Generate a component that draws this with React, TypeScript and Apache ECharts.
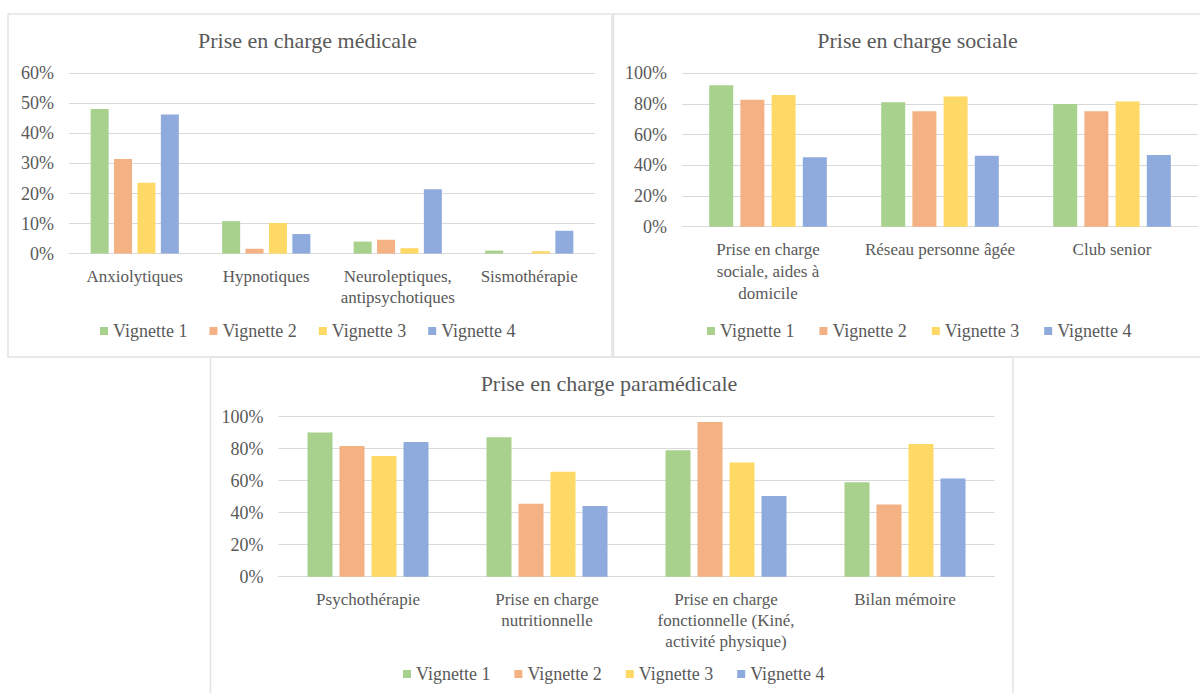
import React, { useEffect, useRef } from "react";
import * as echarts from "echarts";

const seriesNames = ["Vignette 1", "Vignette 2", "Vignette 3", "Vignette 4"];
const colors = ["#A9D18E", "#F4B183", "#FFD966", "#8FAADC"];

const medTitle = "Prise en charge médicale";
const medCategories = ["Anxiolytiques", "Hypnotiques", "Neuroleptiques,\nantipsychotiques", "Sismothérapie"];
const medV1 = [48.1, 10.8, 4.0, 1.0];
const medV2 = [31.5, 1.6, 4.6, 0];
const medV3 = [23.6, 10.2, 1.8, 0.8];
const medV4 = [46.3, 6.5, 21.4, 7.6];

const socTitle = "Prise en charge sociale";
const socCategories = ["Prise en charge\nsociale, aides à\ndomicile", "Réseau personne âgée", "Club senior"];
const socV1 = [92.2, 81.1, 80.0];
const socV2 = [82.8, 75.2, 75.2];
const socV3 = [85.9, 84.8, 81.6];
const socV4 = [45.2, 46.2, 46.8];

const paraTitle = "Prise en charge paramédicale";
const paraCategories = [
  "Psychothérapie",
  "Prise en charge\nnutritionnelle",
  "Prise en charge\nfonctionnelle (Kiné,\nactivité physique)",
  "Bilan mémoire",
];
const paraV1 = [90.2, 87.1, 79.0, 59.0];
const paraV2 = [81.7, 45.6, 96.7, 45.2];
const paraV3 = [75.4, 65.6, 71.3, 82.9];
const paraV4 = [84.2, 44.2, 50.4, 61.3];

const FONT = "Liberation Serif";
const TXT = "#595959";
const GRIDC = "#d9d9d9";

export default function App() {
  const ref = useRef<HTMLDivElement>(null);
  useEffect(() => {
    if (!ref.current) return;
    const chart = echarts.init(ref.current, undefined, { renderer: "svg" });

    const panels = [
      { title: medTitle, cats: medCategories, data: [medV1, medV2, medV3, medV4], max: 60, interval: 10,
        grid: { left: 69, top: 73.3, width: 526, height: 180.3 }, barWidth: 18, barGap: "30%", lh: 21,
        titleX: 307.5, titleY: 29, legendX: 100, legendY: 322, legendGap: 22 },
      { title: socTitle, cats: socCategories, data: [socV1, socV2, socV3, socV4], max: 100, interval: 20,
        grid: { left: 682, top: 73.3, width: 516, height: 153.4 }, barWidth: 24, barGap: "30%", lh: 22,
        titleX: 917.5, titleY: 29, legendX: 707, legendY: 322, legendGap: 25 },
      { title: paraTitle, cats: paraCategories, data: [paraV1, paraV2, paraV3, paraV4], max: 100, interval: 20,
        grid: { left: 278.5, top: 416.7, width: 716, height: 160 }, barWidth: 25, barGap: "28%", lh: 21,
        titleX: 609, titleY: 372, legendX: 403, legendY: 665, legendGap: 24 },
    ];

    const option: any = {
      animation: false,
      backgroundColor: "#ffffff",
      textStyle: { fontFamily: FONT, color: TXT },
      title: panels.map((p) => ({
        text: p.title,
        left: p.titleX,
        top: p.titleY,
        padding: 0,
        textAlign: "center",
        textStyle: { fontFamily: FONT, fontSize: 22, fontWeight: "normal", color: TXT },
      })),
      legend: panels.map((p) => ({
        data: seriesNames,
        left: p.legendX,
        top: p.legendY,
        padding: 0,
        icon: "rect",
        itemWidth: 8,
        itemHeight: 8,
        itemGap: p.legendGap,
        textStyle: { fontFamily: FONT, fontSize: 18, color: TXT },
        selectedMode: false,
      })),
      grid: panels.map((p) => ({ ...p.grid, containLabel: false })),
      xAxis: panels.map((p, i) => ({
        type: "category",
        gridIndex: i,
        data: p.cats,
        axisLine: { show: true, lineStyle: { color: GRIDC, width: 1 } },
        axisTick: { show: false },
        axisLabel: {
          interval: 0,
          margin: 12,
          fontFamily: FONT,
          fontSize: 17,
          lineHeight: p.lh,
          color: TXT,
        },
      })),
      yAxis: panels.map((p, i) => ({
        type: "value",
        gridIndex: i,
        min: 0,
        max: p.max,
        interval: p.interval,
        axisLine: { show: false },
        axisTick: { show: false },
        splitLine: { show: true, lineStyle: { color: GRIDC, width: 1 } },
        axisLabel: {
          formatter: "{value}%",
          margin: 15,
          fontFamily: FONT,
          fontSize: 18,
          color: TXT,
        },
      })),
      series: panels.flatMap((p, i) =>
        p.data.map((d, k) => ({
          type: "bar",
          name: seriesNames[k],
          xAxisIndex: i,
          yAxisIndex: i,
          data: d,
          barWidth: p.barWidth,
          barGap: p.barGap,
          itemStyle: { color: colors[k] },
        }))
      ),
      graphic: [
        { type: "rect", shape: { x: 8, y: 14, width: 604, height: 343 }, style: { fill: "none", stroke: "#e3e3e3", lineWidth: 1.5 }, silent: true },
        { type: "rect", shape: { x: 613.5, y: 14, width: 600, height: 343 }, style: { fill: "none", stroke: "#e3e3e3", lineWidth: 1.5 }, silent: true },
        { type: "rect", shape: { x: 210.5, y: 357, width: 802.5, height: 345 }, style: { fill: "none", stroke: "#e3e3e3", lineWidth: 1.5 }, silent: true },
      ],
    };
    chart.setOption(option);
    return () => chart.dispose();
  }, []);
  return <div ref={ref} style={{ position: "absolute", left: 0, top: 0, width: 1200, height: 693 }} />;
}
